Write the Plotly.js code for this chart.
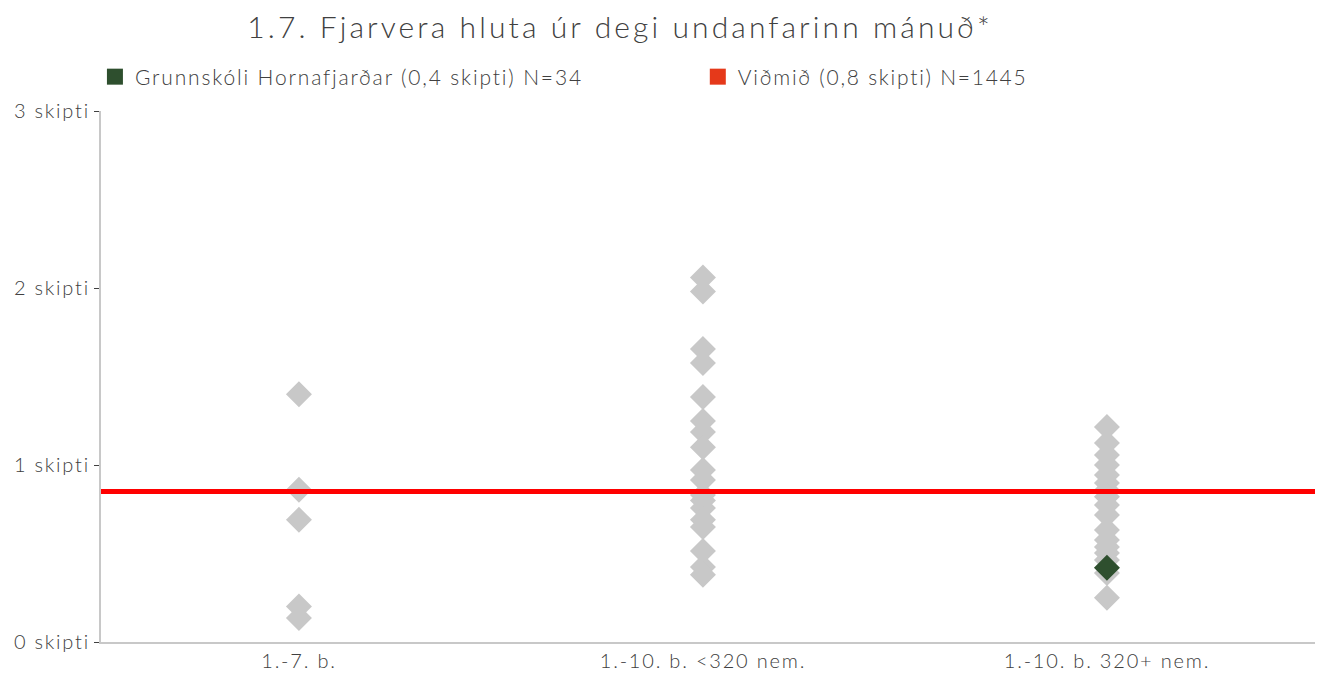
<!DOCTYPE html>
<html><head><meta charset="utf-8">
<script src="https://cdn.plot.ly/plotly-3.0.1.min.js"></script>
<style>html,body{margin:0;padding:0;background:#fff}#chart{width:1325px;height:675px}
#chart .gtitle{letter-spacing:3.1px}
#chart .xtick text,#chart .ytick text{letter-spacing:1.8px}
#chart .legendtext{letter-spacing:1.85px}
#chart .scrollbox{clip-path:none !important}
</style>
</head><body><div id="chart"></div>
<script>
const categories = ["1.-7. b.", "1.-10. b. <320 nem.", "1.-10. b. 320+ nem."];
const group1 = [1.40, 0.86, 0.69, 0.20, 0.136];
const group2 = [2.06, 1.98, 1.655, 1.576, 1.384, 1.249, 1.186, 1.10, 0.972, 0.915, 0.83, 0.80, 0.757, 0.69, 0.65, 0.514, 0.424, 0.38];
const group3 = [1.215, 1.124, 1.056, 1.0, 0.944, 0.898, 0.859, 0.82, 0.774, 0.718, 0.633, 0.576, 0.537, 0.503, 0.463, 0.39, 0.25];
const schoolName = "Grunnskóli Hornafjarðar (0,4 skipti) N=34";
const schoolCategory = 2;
const schoolValue = 0.42;
const benchmarkName = "Viðmið (0,8 skipti) N=1445";
const benchmarkValue = 0.85;
const yTickVals = [0, 1, 2, 3];
const yTickText = ["0 skipti", "1 skipti", "2 skipti", "3 skipti"];

const groups = [group1, group2, group3];
const gx = [], gy = [];
groups.forEach((g, i) => g.forEach(v => { gx.push(i); gy.push(v); }));

const font = "Lato, 'Open Sans', sans-serif";
const traces = [
  {type:'scatter', mode:'markers', x: gx, y: gy, showlegend:false, hoverinfo:'y',
   marker:{symbol:'diamond', size:20, color:'#c8c8c8'}},
  {type:'scatter', mode:'markers', x:[schoolCategory], y:[schoolValue], showlegend:false,
   marker:{symbol:'diamond', size:20, color:'#2e4f2e'}},
  {type:'scatter', mode:'markers', x:[null], y:[null], name: schoolName, legend:'legend',
   marker:{symbol:'square', size:17, color:'#2e4f2e'}},
  {type:'scatter', mode:'markers', x:[null], y:[null], name: benchmarkName, legend:'legend2',
   marker:{symbol:'square', size:17, color:'#e5391a'}}
];
const legendFont = {family:font, size:21, color:'#404040', weight:300};
const layout = {
  width:1325, height:675,
  margin:{l:101, r:10, t:111, b:33},
  paper_bgcolor:'#fff', plot_bgcolor:'#fff',
  font:{family:font, color:'#404040', size:20, weight:300},
  title:{text:"1.7. Fjarvera hluta úr degi undanfarinn mánuð*", x:0.468, xanchor:'center', y:0.96, yanchor:'middle',
         font:{family:font, size:30, color:'#404040', weight:300}},
  xaxis:{range:[-0.49, 2.515], tickvals:[0,1,2], ticktext:categories, showgrid:false, zeroline:false,
         showline:true, linecolor:'#c8c8c8', linewidth:2, ticks:'', tickfont:{size:20, weight:300}, fixedrange:true},
  yaxis:{range:[0,3], tickvals:yTickVals, ticktext:yTickText, showgrid:false, zeroline:false,
         showline:true, linecolor:'#c8c8c8', linewidth:2, ticks:'outside', ticklen:5, tickcolor:'#404040',
         tickwidth:1, tickfont:{size:20, weight:300}, fixedrange:true},
  legend:{orientation:'h', x:-0.005, xanchor:'left', y:1.064, yanchor:'middle',
          font:legendFont, bgcolor:'rgba(0,0,0,0)', borderwidth:0},
  legend2:{orientation:'h', x:0.4916, xanchor:'left', y:1.064, yanchor:'middle',
          font:legendFont, bgcolor:'rgba(0,0,0,0)', borderwidth:0},
  shapes:[{type:'line', xref:'paper', yref:'y', x0:0, x1:1, y0:benchmarkValue, y1:benchmarkValue,
           line:{color:'#ff0000', width:5}, layer:'above'}],
  showlegend:true
};
function styleLegend() {
  document.querySelectorAll('#chart text').forEach(t => {
    if ((t.textContent || '').indexOf('Vi\u00f0mi') === 0) t.style.letterSpacing = '1.75px';
  });
  document.querySelectorAll('#chart [clip-path]').forEach(el => {
    const c = el.getAttribute('clip-path') || '';
    if (c.indexOf('legend') >= 0) el.removeAttribute('clip-path');
  });
}
Plotly.newPlot('chart', traces, layout, {displayModeBar:false, staticPlot:true}).then(() => {
  styleLegend();
  setTimeout(styleLegend, 50);
});
</script></body></html>
